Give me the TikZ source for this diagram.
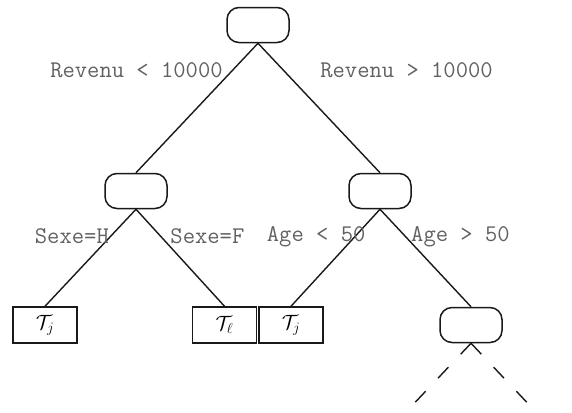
\documentclass[tikz,border=0pt]{standalone}
\usepackage{amsmath}
\usepackage{amssymb}
\usepackage{fontspec}
\usepackage{tikz}
\usetikzlibrary{shapes.geometric, arrows}

\begin{document}
\begin{tikzpicture}[x=1bp, y=-1bp, node distance=166bp]
        \tikzstyle{split} = [rectangle, rounded corners=12bp, minimum width=62bp, minimum height=35bp, draw=black!90, line width=1.5bp]
        \tikzstyle{leaf} = [rectangle, minimum width=64bp, minimum height=36bp, inner sep=0pt, draw=black!90, line width=1.5bp, font=\fontsize{22}{24}\selectfont]
        \tikzstyle{branch} = [line width=1.4bp, draw=black!90]
        \tikzstyle{cond} = [inner sep=1bp, text=black!62, font=\ttfamily\fontsize{24}{26}\selectfont]

        \useasboundingbox (0,0) rectangle (572,412);

        \node (root) [split] at (258,25) {};
        \node (revlow) [split, below of=root, xshift=-122bp] {};
        \node (revhigh) [split, below of=root, xshift=122bp] {};
        \node (tjh) [leaf, below of=revlow, xshift=-91bp, yshift=32bp] {$\mathcal{T}_j$};
        \node (tlf) [leaf, below of=revlow, xshift=88.5bp, yshift=32bp] {$\mathcal{T}_\ell$};
        \node (tjyoung) [leaf, below of=revhigh, xshift=-89bp, yshift=32bp] {$\mathcal{T}_j$};
        \node (old) [split, below of=revhigh, xshift=91bp, yshift=32bp] {};
        \coordinate (oldl) at (406,412);
        \coordinate (oldr) at (536,412);

        \draw [branch] (root.south) -- node[cond, pos=0.21, anchor=east, xshift=-8bp] {Revenu < 10000} (revlow.north);
        \draw [branch] (root.south) -- node[cond, pos=0.21, anchor=west, xshift=35bp] {Revenu > 10000} (revhigh.north);
        \draw [branch] (revlow.south) -- node[cond, pos=0.28, anchor=east] {Sexe=H} (tjh.north);
        \draw [branch] (revlow.south) -- node[cond, pos=0.28, anchor=west, xshift=8bp] {Sexe=F} (tlf.north);
        \draw [branch] (revhigh.south) -- node[cond, pos=0.28, anchor=east, xshift=12bp] {Age < 50} (tjyoung.north);
        \draw [branch] (revhigh.south) -- node[cond, pos=0.28, anchor=west, xshift=4bp] {Age > 50} (old.north);
        % the subtree below goes on
        \draw [branch, dash pattern=on 15bp off 18bp] (old.south) -- (oldl);
        \draw [branch, dash pattern=on 15bp off 18bp] (old.south) -- (oldr);
    \end{tikzpicture}
\end{document}
